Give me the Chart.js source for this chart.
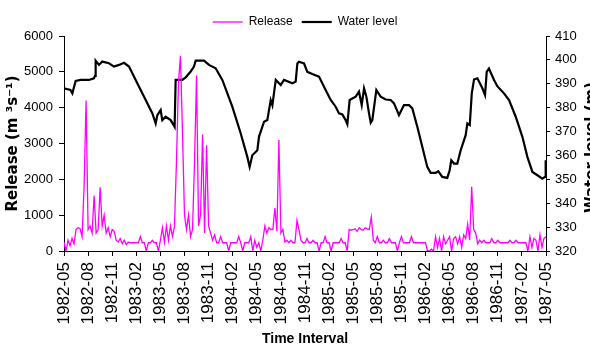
<!DOCTYPE html>
<html>
<head>
<meta charset="utf-8">
<script src="https://cdn.jsdelivr.net/npm/chart.js@4.4.1/dist/chart.umd.min.js"></script>
<style>
  body { margin: 0; background: #fff; }
  #wrap { width: 590px; height: 349px; }
</style>
</head>
<body>
<div id="wrap"><canvas id="chart" width="590" height="349"></canvas></div>
<script>
// x axis: months since 1982-05, one tick every 3 months
const tickLabels = ['1982-05', '1982-08', '1982-11', '1983-02', '1983-05', '1983-08', '1983-11',
    '1984-02', '1984-05', '1984-08', '1984-11', '1985-02', '1985-05', '1985-08', '1985-11',
    '1986-02', '1986-05', '1986-08', '1986-11', '1987-02', '1987-05'];

// release (m3/s), one reading every quarter month
const releaseStep = 0.25;
const release = [
    250, 0, 300, 150,       // 1982-05
    350, 200, 600, 650,
    620, 400, 1800, 4200,
    600, 700, 500, 1550,    // 1982-08
    500, 600, 1780, 700,
    1000, 500, 650, 400,
    600, 550, 300, 250,     // 1982-11
    350, 200, 300, 180,
    250, 230, 230, 230,
    230, 230, 400, 230,     // 1983-02
    230, 0, 230, 230,
    300, 230, 230, 0,
    300, 650, 250, 700,     // 1983-05
    300, 700, 400, 680,
    2500, 4700, 5450, 3300,
    1000, 600, 1000, 400,   // 1983-08
    600, 2500, 4900, 700,
    1000, 3250, 500, 2950,
    700, 500, 300, 450,     // 1983-11
    230, 230, 400, 230,
    230, 230, 0, 230,
    230, 230, 230, 400,     // 1984-02
    230, 0, 230, 230,
    230, 400, 0, 300,
    100, 230, 0, 300,       // 1984-05
    700, 500, 650, 600,
    600, 1200, 550, 3100,
    500, 600, 250, 300,     // 1984-08
    230, 300, 230, 230,
    850, 600, 300, 230,
    230, 350, 230, 230,     // 1984-11
    300, 230, 230, 0,
    230, 230, 400, 230,
    230, 0, 230, 230,       // 1985-02
    230, 230, 350, 230,
    230, 0, 600, 580,
    600, 620, 550, 650,     // 1985-05
    600, 580, 650, 620,
    600, 950, 300, 230,
    400, 230, 230, 300,     // 1985-08
    230, 230, 350, 230,
    230, 230, 0, 230,
    400, 230, 230, 230,     // 1985-11
    230, 400, 230, 230,
    230, 230, 230, 230,
    230, 0, 0, 50,          // 1986-02
    0, 400, 100, 350,
    0, 400, 200, 300,
    400, 0, 350, 400,       // 1986-05
    200, 400, 100, 450,
    350, 750, 300, 1790,
    600, 500, 200, 300,     // 1986-08
    230, 300, 230, 230,
    230, 350, 230, 230,
    300, 230, 230, 230,     // 1986-11
    230, 230, 300, 230,
    230, 300, 230, 230,
    230, 230, 230, 0,       // 1987-02
    400, 100, 350, 300,
    0, 450, 100, 350,
    400                     // 1987-05
];

// water level (m): month position and level
const levelMonths = [0, 0.8, 1.04, 1.45, 2.07, 3.1, 3.73, 3.86, 3.94, 4.36, 4.77, 5.6, 6.22, 6.85, 7.47,
    8.09, 8.92, 10.17, 11.0, 11.41, 11.62, 12.03, 12.24, 12.65, 13.28, 13.77, 13.9, 14.73, 15.15,
    15.77, 16.18, 16.39, 17.43, 18.05, 18.88, 19.71, 20.95, 22.0, 22.82, 23.11, 23.44, 24.07, 24.27,
    24.9, 25.31, 25.73, 25.94, 26.36, 26.98, 27.39, 28.43, 28.84, 29.05, 29.25, 29.88, 30.29, 30.91,
    31.74, 32.57, 33.2, 33.82, 34.23, 34.65, 35.06, 35.27, 35.56, 36.31, 36.72, 37.06, 37.35, 37.64,
    37.97, 38.18, 38.38, 38.88, 39.42, 40.04, 40.67, 41.08, 41.7, 42.32, 42.95, 43.36, 43.98, 44.6,
    45.22, 45.64, 46.26, 46.59, 47.09, 47.71, 48.01, 48.21, 48.55, 48.96, 49.38, 49.59, 50.0, 50.21,
    50.51, 50.76, 51.04, 51.46, 52.08, 52.41, 52.62, 52.9, 53.53, 53.94, 54.77, 55.4, 56.23, 57.06,
    57.68, 58.31, 58.93, 59.55, 59.88, 59.96];
const levels = [388.1, 387.4, 386, 391.2, 391.6, 391.6, 392.3, 393.3, 399.7, 397.9, 399.3, 398.6, 397.2, 397.9, 398.8,
    397.2, 391.6, 383.2, 377.6, 373.4, 376.9, 379, 374.8, 376.2, 374.8, 372, 391.6, 391.6, 392.7,
    395.1, 397.2, 399.7, 399.7, 397.9, 396.5, 391.6, 380.4, 369.2, 359.4, 355.2, 360.1, 362.2, 367.8,
    374.1, 374.8, 383.2, 381, 391.6, 389.5, 391.6, 390.2, 390.9, 398.5, 399.2, 398.5, 395, 394.1,
    393, 387.4, 383.2, 380.4, 377.6, 377.2, 374.8, 373.1, 383.2, 384.6, 386.7, 381.1, 388.1, 384.6,
    377.6, 373.7, 374.8, 387.4, 384.6, 383.4, 383.2, 381.8, 376.9, 381.1, 381.1, 379.7, 372, 363.6,
    355.2, 352.7, 352.7, 353.4, 351, 350.6, 353.8, 358, 356.6, 356.6, 362.2, 364.3, 368.5, 373.4,
    372.7, 386, 391.8, 392.3, 388.1, 385.3, 395, 396.4, 391.6, 389, 386, 383.2, 376.2, 367.8,
    359.4, 353.1, 351.7, 350.3, 351, 358];

const sans = "'Liberation Sans', Arial, sans-serif";
const boldWide = "'DejaVu Sans', 'Liberation Sans', sans-serif";

// right axis title reads bottom to top and runs off the edge, like the original
const rightTitle = {
    id: 'rightTitle',
    afterDraw(chart) {
        const ctx = chart.ctx;
        const y1 = chart.scales.y1;
        ctx.save();
        ctx.translate(y1.right + 6, (chart.chartArea.top + chart.chartArea.bottom) / 2 + 4);
        ctx.rotate(-Math.PI / 2);
        ctx.font = 'bold 15px ' + boldWide;
        ctx.fillStyle = '#000';
        ctx.textAlign = 'center';
        ctx.textBaseline = 'alphabetic';
        ctx.fillText('Water level (m)', 0, 0);
        ctx.restore();
    }
};

// the legend sits a little right of the canvas centre
const legendShift = {
    id: 'legendShift',
    afterLayout(chart) {
        chart.legend.left += 10;
        chart.legend.right += 10;
    }
};

let chart = new Chart(document.getElementById('chart').getContext('2d'), {
    type: 'line',
    data: {
        datasets: [{
            label: 'Release',
            data: release.map((v, i) => ({x: i * releaseStep, y: v})),
            borderColor: '#ff00ff',
            backgroundColor: '#ff00ff',
            borderWidth: 1.3,
            pointRadius: 0,
            tension: 0,
            fill: false,
            yAxisID: 'y'
        }, {
            label: 'Water level',
            data: levelMonths.map((m, i) => ({x: m, y: levels[i]})),
            borderColor: '#000',
            backgroundColor: '#000',
            borderWidth: 2.2,
            pointRadius: 0,
            tension: 0,
            fill: false,
            yAxisID: 'y1'
        }]
    },
    options: {
        responsive: false,
        animation: false,
        layout: {padding: {top: 7}},
        plugins: {
            tooltip: {enabled: false},
            legend: {
                position: 'top',
                maxHeight: 29,
                labels: {
                    usePointStyle: true,
                    pointStyle: 'line',
                    pointStyleWidth: 30,
                    padding: 9,
                    color: '#000',
                    font: {family: sans, size: 12}
                }
            }
        },
        scales: {
            x: {
                type: 'linear',
                min: 0,
                max: 60,
                afterFit(scale) { scale.height = 98; },
                grid: {drawOnChartArea: false, tickLength: 5, color: '#000'},
                border: {color: '#000'},
                ticks: {
                    stepSize: 3,
                    autoSkip: false,
                    maxRotation: 90,
                    minRotation: 90,
                    padding: 6,
                    color: '#000',
                    font: {family: sans, size: 17},
                    callback: (v) => tickLabels[Math.round(v / 3)]
                },
                title: {
                    display: true,
                    text: 'Time Interval',
                    color: '#000',
                    padding: {top: 1, bottom: 1},
                    font: {family: sans, size: 14, weight: 'bold'}
                }
            },
            y: {
                position: 'left',
                min: 0,
                max: 6000,
                afterFit(scale) { scale.width = 64; },
                grid: {drawOnChartArea: false, tickLength: 5, color: '#000'},
                border: {color: '#000'},
                ticks: {
                    stepSize: 1000,
                    padding: 6,
                    color: '#000',
                    font: {family: sans, size: 13},
                    callback: (v) => String(v)
                },
                title: {
                    display: true,
                    text: 'Release (m ³s⁻¹)',
                    color: '#000',
                    font: {family: boldWide, size: 15, weight: 'bold'}
                }
            },
            y1: {
                position: 'right',
                min: 320,
                max: 410,
                afterFit(scale) { scale.width = 44; },
                grid: {drawOnChartArea: false, tickLength: 4, color: '#000'},
                border: {color: '#000'},
                ticks: {
                    stepSize: 10,
                    padding: 5,
                    color: '#000',
                    font: {family: sans, size: 13},
                    callback: (v) => String(v)
                }
            }
        }
    },
    plugins: [rightTitle, legendShift]
});
</script>
</body>
</html>
